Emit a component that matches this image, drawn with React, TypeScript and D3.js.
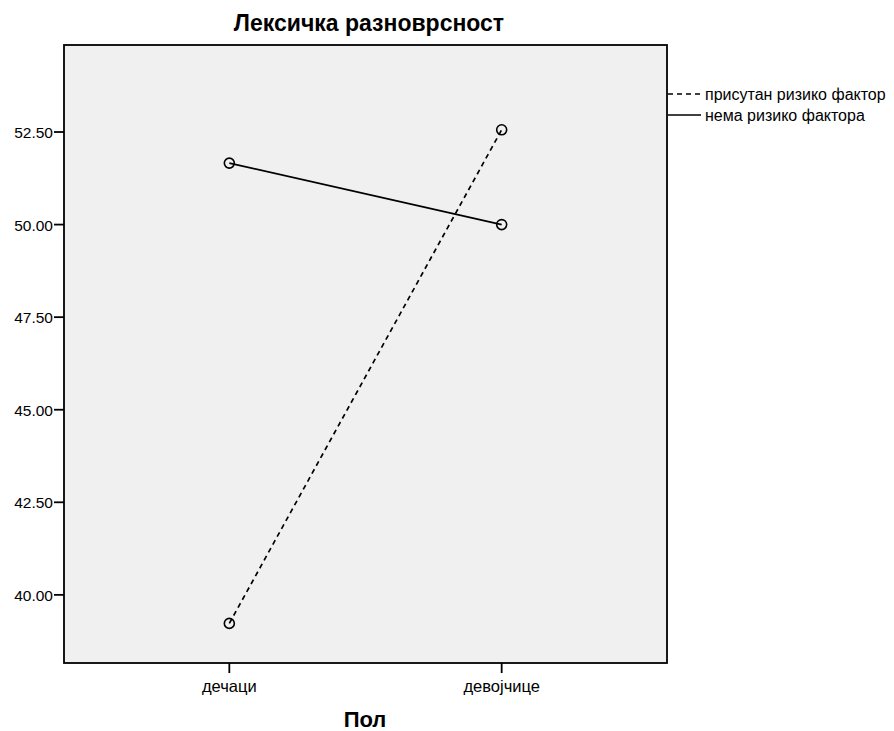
import React from "react";
import * as d3 from "d3";

const categories = ["дечаци", "девојчице"];
const seriesNames = ["присутан ризико фактор", "нема ризико фактора"];
const riskPresent = [39.23, 52.56];
const noRisk = [51.66, 50.0];
const yTicks = [40, 42.5, 45, 47.5, 50, 52.5];

const W = 894, H = 731;
const L = 64, R = 667, T = 45, B = 663;

export default function App() {
  const x = d3.scalePoint<string>().domain(categories).range([L, R]).padding(0.607);
  const y = d3.scaleLinear().domain([38.16, 54.85]).range([B, T]);
  const line = d3.line<[string, number]>().x(d => x(d[0])!).y(d => y(d[1]));
  const series = [
    { name: seriesNames[0], values: riskPresent, dash: "5,4" },
    { name: seriesNames[1], values: noRisk, dash: null },
  ];
  const font = "Liberation Sans, Arial, sans-serif";
  return (
    <svg width={W} height={H} style={{ position: "absolute", left: 0, top: 0, background: "#fff" }} fontFamily={font}>
      <text x={369} y={31} textAnchor="middle" fontSize={23} fontWeight="bold">Лексичка разноврсност</text>
      <rect x={L} y={T} width={R - L} height={B - T} fill="#f0f0f0" stroke="#000" strokeWidth={1.8} />
      {yTicks.map(t => (
        <g key={t}>
          <line x1={L - 10} x2={L} y1={y(t)} y2={y(t)} stroke="#000" strokeWidth={1.8} />
          <text x={L - 11} y={y(t) + 6} textAnchor="end" fontSize={15.5}>{t.toFixed(2)}</text>
        </g>
      ))}
      {categories.map(c => (
        <g key={c}>
          <line x1={x(c)} x2={x(c)} y1={B} y2={B + 10} stroke="#000" strokeWidth={1.8} />
          <text x={x(c)} y={692} textAnchor="middle" fontSize={16.5}>{c}</text>
        </g>
      ))}
      <text x={365} y={727} textAnchor="middle" fontSize={22} fontWeight="bold">Пол</text>
      {series.map(s => {
        const pts = categories.map((c, i) => [c, s.values[i]] as [string, number]);
        return (
          <g key={s.name}>
            <path d={line(pts)!} fill="none" stroke="#000" strokeWidth={1.7} strokeDasharray={s.dash ?? undefined} />
            {pts.map(p => (
              <circle key={p[0]} cx={x(p[0])} cy={y(p[1])} r={5} fill="none" stroke="#000" strokeWidth={1.6} />
            ))}
          </g>
        );
      })}
      {series.map((s, i) => (
        <g key={s.name}>
          <line x1={668} x2={701} y1={94 + i * 21} y2={94 + i * 21} stroke="#000" strokeWidth={1.7} strokeDasharray={s.dash ?? undefined} />
          <text x={705} y={99.5 + i * 21} fontSize={16}>{s.name}</text>
        </g>
      ))}
    </svg>
  );
}
